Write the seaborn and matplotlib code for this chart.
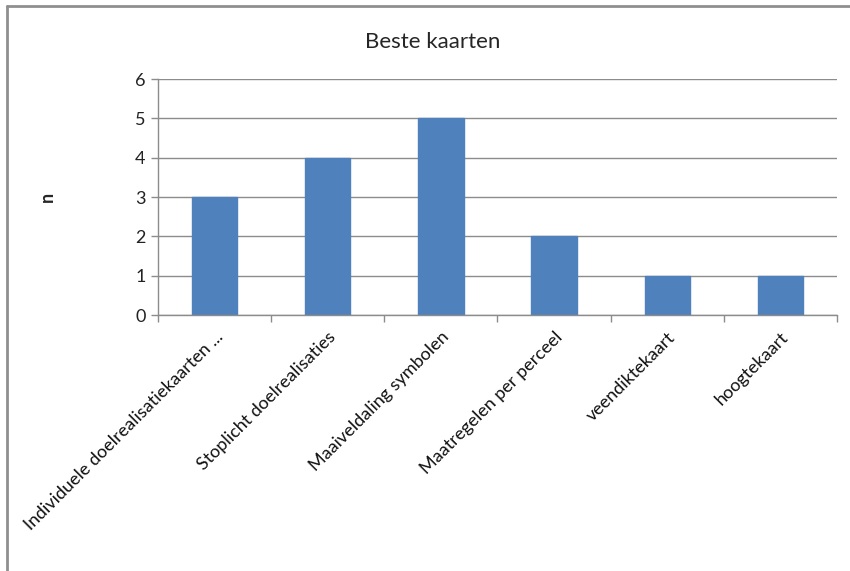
import matplotlib
matplotlib.use("Agg")
import matplotlib.pyplot as plt
from matplotlib.lines import Line2D
import seaborn as sns
import pandas as pd
import numpy as np

categories = ["Individuele doelrealisatiekaarten ...", "Stoplicht doelrealisaties",
              "Maaiveldaling symbolen", "Maatregelen per perceel", "veendiktekaart", "hoogtekaart"]
values = [3, 4, 5, 2, 1, 1]
yticks = [0, 1, 2, 3, 4, 5, 6]

sns.set_theme(style="white")
plt.rcParams['font.family'] = ['Lato', 'DejaVu Sans']

df = pd.DataFrame({"kaart": categories, "n": values})

fig = plt.figure(figsize=(8.5, 5.71), dpi=100)
ax = fig.add_axes([158/850, 1-315/571, (837-158)/850, (315-79)/571])

sns.barplot(data=df, x="kaart", y="n", color="#4F81BD", width=0.4, saturation=1,
            edgecolor="#4F81BD", ax=ax)

ax.set_xlim(-0.5, len(categories) - 0.5)
ax.set_ylim(0, 6)
ax.set_yticks(yticks)
ax.set_yticklabels([str(t) for t in yticks], fontsize=13, color="#222222")
ax.yaxis.grid(True, color="#8c8c8c", linewidth=1)
ax.set_axisbelow(True)

# category boundary ticks
ax.set_xticks(np.arange(-0.5, len(categories)), minor=True)
ax.set_xticks(np.arange(len(categories)))
ax.set_xticklabels(categories, rotation=45, ha="right", rotation_mode="anchor",
                   fontsize=13, color="#111111")
ax.tick_params(axis="x", which="major", length=0, pad=10)
ax.tick_params(axis="x", which="minor", length=5, color="#8c8c8c", width=1, bottom=True)
ax.tick_params(axis="y", length=5, color="#8c8c8c", width=1, left=True, pad=4)

for side in ["top", "right"]:
    ax.spines[side].set_visible(False)
for side in ["left", "bottom"]:
    ax.spines[side].set_color("#8c8c8c")
    ax.spines[side].set_linewidth(1)

ax.set_xlabel("")
ax.set_ylabel("")
fig.text(47/850, 1-197/571, "n", rotation=90, fontsize=13, fontweight="bold",
         ha="center", va="center")
fig.text(433/850, 1-42/571, "Beste kaarten", fontsize=16, ha="center", va="center")

# chart area border (top & left visible)
fig.add_artist(Line2D([7/850, 1], [1-6/571, 1-6/571], transform=fig.transFigure,
                      color="#8f8f8f", linewidth=2))
fig.add_artist(Line2D([7/850, 7/850], [0, 1-6/571], transform=fig.transFigure,
                      color="#8f8f8f", linewidth=2))

fig.savefig("out.png", dpi=100)
